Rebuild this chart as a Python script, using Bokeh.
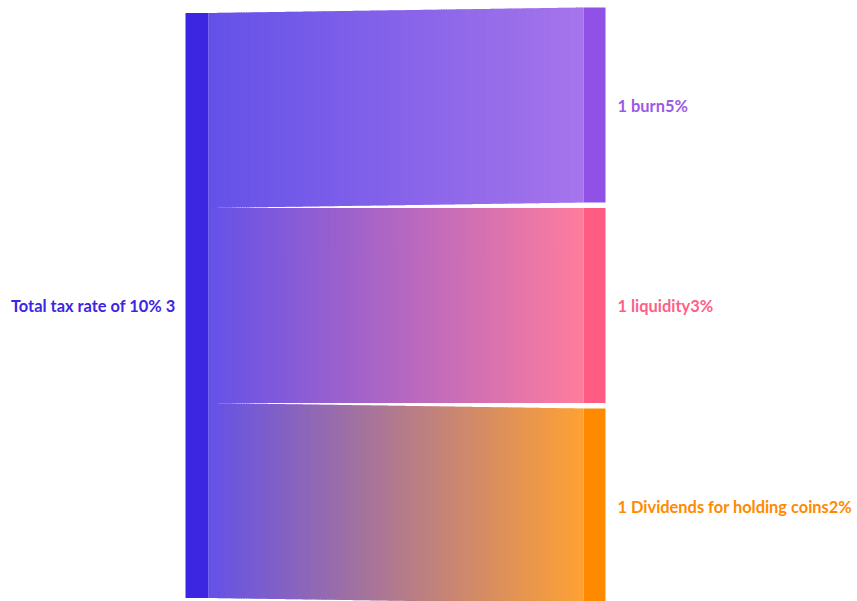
import numpy as np
from bokeh.plotting import figure
from bokeh.models import Range1d
from bokeh.core.properties import value
from bokeh.embed import file_html
from bokeh.resources import INLINE

# ---- data ----
source_name = "Total tax rate of 10%"
target_names = ["burn5%", "liquidity3%", "Dividends for holding coins2%"]
link_values = [1, 1, 1]
source_color = "#3d26e2"
target_colors = ["#9052e6", "#ff5c84", "#ff8a00"]
label_colors = ["#9a5ae6", "#ff5f87", "#ff8a00"]

# ---- layout (pixel-like data space) ----
W, H = 857, 601
unit = 195.0
gap = 5.5
src_x0, src_x1 = 185, 208
tgt_x0, tgt_x1 = 583, 605
total = sum(link_values)
t_total = total * unit + gap * (len(link_values) - 1)
t_top = 7.0
center = t_top + t_total / 2
s_top = center - total * unit / 2
s_bot = center + total * unit / 2

p = figure(width=W, height=H, output_backend="svg", toolbar_location=None,
           x_range=Range1d(0, W), y_range=Range1d(H, 0),
           min_border=0, outline_line_color=None)
p.axis.visible = False
p.grid.visible = False
p.background_fill_color = "white"


def hex2rgb(h):
    h = h.lstrip("#")
    return np.array([int(h[i:i + 2], 16) for i in (0, 2, 4)], dtype=float)


def blend(c, a=0.8):
    return c * a + 255 * (1 - a)


def rgb2hex(c):
    c = np.clip(np.round(c), 0, 255).astype(int)
    return "#%02x%02x%02x" % tuple(c)


def bez(t, a, b):
    return (1 - t) ** 3 * a + 3 * (1 - t) ** 2 * t * a + 3 * (1 - t) * t ** 2 * b + t ** 3 * b


# dense parametric sampling, then resample uniformly in x
tt = np.linspace(0, 1, 2001)
xx = bez(tt, src_x1, tgt_x0)
N = 150
xs_u = np.linspace(src_x1, tgt_x0, N + 1)

xs_list, ys_list, cols = [], [], []
s_y = s_top
t_y = t_top
c_src = hex2rgb(source_color)
for i, v in enumerate(link_values):
    h = v * unit
    top = np.interp(xs_u, xx, bez(tt, s_y, t_y))
    bot = np.interp(xs_u, xx, bez(tt, s_y + h, t_y + h))
    c_tgt = hex2rgb(target_colors[i])
    for k in range(N):
        xa = xs_u[k]
        xb = min(xs_u[k + 1] + 1.0, tgt_x0)
        ya_t, yb_t = top[k], np.interp(xb, xs_u, top)
        ya_b, yb_b = bot[k], np.interp(xb, xs_u, bot)
        xs_list.append([xa, xb, xb, xa])
        ys_list.append([ya_t, yb_t, yb_b, ya_b])
        f = ((xs_u[k] + xs_u[k + 1]) / 2 - src_x1) / (tgt_x0 - src_x1)
        cols.append(rgb2hex(blend(c_src * (1 - f) + c_tgt * f)))
    s_y += h
    t_y += h + gap

p.patches(xs=xs_list, ys=ys_list, fill_color=cols, line_color=None)

# nodes
p.quad(left=[src_x0], right=[src_x1], top=[s_top], bottom=[s_bot],
       fill_color=source_color, line_color=None)
tops, bots = [], []
y = t_top
for v in link_values:
    tops.append(y)
    bots.append(y + v * unit)
    y += v * unit + gap
p.quad(left=[tgt_x0] * 3, right=[tgt_x1] * 3, top=tops, bottom=bots,
       fill_color=target_colors, line_color=None)

# labels
p.text(x=[src_x0 - 10], y=[center], text=[f"{source_name} {total}"],
       text_align="right", text_baseline="middle", text_color=source_color,
       text_font=value("Lato"), text_font_style="bold", text_font_size="16.4px")
p.text(x=[tgt_x1 + 12] * 3, y=[(a + b) / 2 for a, b in zip(tops, bots)],
       text=[f"{v} {n}" for v, n in zip(link_values, target_names)],
       text_align="left", text_baseline="middle", text_color=label_colors,
       text_font=value("Lato"), text_font_style="bold", text_font_size="16.4px")

open("out.html", "w").write(file_html(p, INLINE))
